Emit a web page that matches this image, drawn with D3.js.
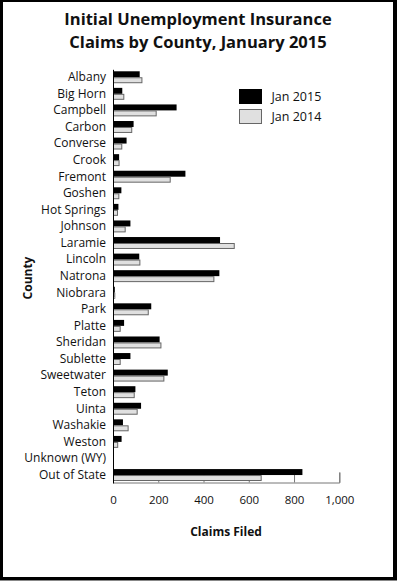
<!DOCTYPE html>
<html><head><meta charset="utf-8">
<script src="https://cdn.jsdelivr.net/npm/d3@7"></script>
<style>body{margin:0;background:#fff}svg{display:block}text{font-family:"Open Sans",sans-serif}</style>
</head><body><svg id="c" width="397" height="581"></svg>
<script>
const counties = ["Albany","Big Horn","Campbell","Carbon","Converse","Crook","Fremont","Goshen","Hot Springs","Johnson","Laramie","Lincoln","Natrona","Niobrara","Park","Platte","Sheridan","Sublette","Sweetwater","Teton","Uinta","Washakie","Weston","Unknown (WY)","Out of State"];
const jan2015 = [118,41,281,91,60,27,320,37,24,77,473,116,470,8,169,49,206,77,242,99,124,44,38,2,837];
const jan2014 = [130,50,193,85,41,29,255,28,22,56,538,121,448,10,158,34,214,34,227,96,109,69,23,1,657];
const seriesNames = ["Jan 2015","Jan 2014"];
const xTicks = [0,200,400,600,800,1000];
const titleLines = ["Initial Unemployment Insurance","Claims by County, January 2015"];

const svg = d3.select("#c");
// frame
svg.append("rect").attr("x",0).attr("y",0).attr("width",397).attr("height",581).attr("fill","#000");
svg.append("rect").attr("x",3).attr("y",2).attr("width",390).attr("height",575).attr("fill","#fff");
svg.append("line").attr("x1",0).attr("x2",397).attr("y1",580.5).attr("y2",580.5).attr("stroke","#888");

const x = d3.scaleLinear().domain([0,1000]).range([113,339.3]);
const y = d3.scaleBand().domain(counties).range([69.3,483]).paddingInner(0.28).paddingOuter(0.12);
const sub = d3.scaleBand().domain(seriesNames).range([0,y.bandwidth()]);

// title
svg.append("g").selectAll("text").data(titleLines).join("text")
  .attr("x",198).attr("y",(d,i)=>25+i*22.5).attr("text-anchor","middle")
  .attr("font-size",16.5).attr("font-weight","bold").attr("fill","#111").text(d=>d);

// ticks (behind bars)
const xAxis = d3.axisBottom(x).tickValues(xTicks).tickSize(-10).tickPadding(13).tickFormat(d3.format(","));
const gx = svg.append("g").attr("transform","translate(0,482.5)").call(xAxis);
gx.select(".domain").attr("stroke","#777");
gx.selectAll(".tick line").attr("stroke","#777");
gx.selectAll(".tick text").attr("font-size",11.5).attr("fill","#111").attr("font-family","'Open Sans',sans-serif");

// bars
const rows = counties.map((c,i)=>({c, v:[jan2015[i],jan2014[i]]}));
const g = svg.append("g").selectAll("g").data(rows).join("g").attr("transform",d=>`translate(0,${y(d.c)})`);
g.append("rect").attr("x",x(0)).attr("y",sub("Jan 2015")).attr("height",sub.bandwidth()).attr("width",d=>x(d.v[0])-x(0)).attr("fill","#000");
g.append("rect").attr("x",x(0)+0.5).attr("y",sub("Jan 2014")+0.5).attr("height",sub.bandwidth()-1).attr("width",d=>Math.max(0,x(d.v[1])-x(0)-1)).attr("fill","#e0e0e0").attr("stroke","#666").attr("stroke-width",1);

// y axis
const yAxis = d3.axisLeft(y).tickSize(0).tickPadding(7);
const gy = svg.append("g").attr("transform",`translate(${x(0)},0)`).call(yAxis);
gy.select(".domain").attr("stroke","#000").attr("stroke-width",1);
gy.selectAll(".tick text").attr("font-size",12).attr("fill","#111").attr("font-family","'Open Sans',sans-serif");

// axis titles
svg.append("text").attr("x",226).attr("y",536).attr("text-anchor","middle").attr("font-size",12).attr("font-weight","bold").attr("fill","#111").text("Claims Filed");
svg.append("text").attr("transform","translate(32,278) rotate(-90)").attr("text-anchor","middle").attr("font-size",12).attr("font-weight","bold").attr("fill","#111").text("County");

// legend
const colors = ["#000","#e0e0e0"];
const lg = svg.append("g").selectAll("g").data(seriesNames).join("g").attr("transform",(d,i)=>`translate(239.5,${89.5+i*20})`);
lg.append("rect").attr("width",22).attr("height",14).attr("fill",(d,i)=>colors[i]).attr("stroke",(d,i)=>i?"#666":"#000");
lg.append("text").attr("x",32).attr("y",11.5).attr("font-size",12.5).attr("fill","#111").text(d=>d);
</script></body></html>
